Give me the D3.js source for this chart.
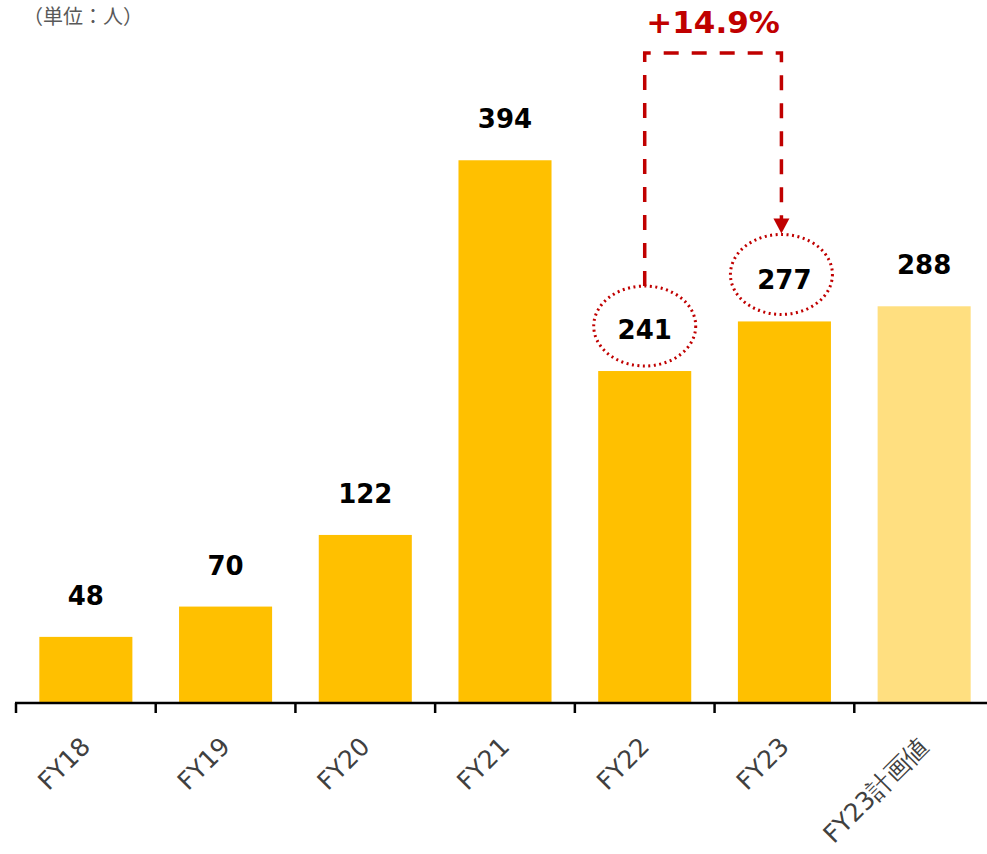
<!DOCTYPE html>
<html>
<head>
<meta charset="utf-8">
<script src="https://cdn.jsdelivr.net/npm/d3@7"></script>
<style>
  body { margin: 0; background: #fff; }
  text { font-family: "DejaVu Sans", Verdana, sans-serif; }
</style>
</head>
<body>
<div id="chart"></div>
<script>
var categories = ["FY18", "FY19", "FY20", "FY21", "FY22", "FY23", "FY23計画値"];
var values = [48, 70, 122, 394, 241, 277, 288];
var planFlags = [false, false, false, false, false, false, true];
var growthLabel = "+14.9%";
var unitLabel = "（単位：人）";

var svgWidth = 987;
var svgHeight = 854;
var baseY = 703;

var svg = d3.select("#chart")
    .append("svg")
    .attr("width", svgWidth)
    .attr("height", svgHeight);

var xScale = d3.scaleBand()
    .domain(categories)
    .range([16, 994])
    .paddingInner(0.334)
    .paddingOuter(0.167);

var yScale = d3.scaleLinear()
    .domain([0, 400])
    .range([baseY, baseY - 551]);

var red = "#c00000";

// unit label
svg.append("text")
    .attr("x", 23)
    .attr("y", 24)
    .attr("font-size", 20)
    .attr("fill", "#595959")
    .style("font-family", "'Noto Sans CJK JP', sans-serif")
    .text(unitLabel);

// bars
svg.selectAll("rect.bar")
    .data(values)
    .enter()
    .append("rect")
    .attr("class", "bar")
    .attr("x", (d, i) => xScale(categories[i]))
    .attr("y", d => yScale(d))
    .attr("width", xScale.bandwidth())
    .attr("height", d => baseY - yScale(d))
    .attr("fill", (d, i) => planFlags[i] ? "#ffdf80" : "#ffc000");

// value labels
svg.selectAll("text.val")
    .data(values)
    .enter()
    .append("text")
    .attr("class", "val")
    .attr("x", (d, i) => xScale(categories[i]) + xScale.bandwidth() / 2)
    .attr("y", d => yScale(d) - 32)
    .attr("text-anchor", "middle")
    .attr("font-size", 26)
    .attr("font-weight", "bold")
    .attr("fill", "#000")
    .text(d => d);

// axis
var step = xScale.step();
var x0 = xScale.range()[0];
svg.append("line")
    .attr("x1", x0 - 1)
    .attr("x2", svgWidth)
    .attr("y1", baseY)
    .attr("y2", baseY)
    .attr("stroke", "#000")
    .attr("stroke-width", 2.5);

svg.selectAll("line.tick")
    .data(d3.range(categories.length + 1))
    .enter()
    .append("line")
    .attr("class", "tick")
    .attr("x1", i => x0 + i * step)
    .attr("x2", i => x0 + i * step)
    .attr("y1", baseY)
    .attr("y2", baseY + 10)
    .attr("stroke", "#000")
    .attr("stroke-width", 2.5);

// category labels
svg.selectAll("text.cat")
    .data(categories)
    .enter()
    .append("text")
    .attr("class", "cat")
    .attr("text-anchor", "end")
    .attr("font-size", 25)
    .attr("fill", "#404040")
    .attr("transform", d => `translate(${xScale(d) + xScale.bandwidth() / 2 + 6}, ${baseY + 45}) rotate(-45)`)
    .text(d => d);

// growth annotation
var cx22 = xScale("FY22") + xScale.bandwidth() / 2;
var cx23 = xScale("FY23") + xScale.bandwidth() / 2 - 3;
var cy22 = yScale(values[4]) - 45;
var cy23 = yScale(values[5]) - 47;
var topY = 53;

svg.append("ellipse")
    .attr("cx", cx22).attr("cy", cy22)
    .attr("rx", 51).attr("ry", 40)
    .attr("fill", "none")
    .attr("stroke", red)
    .attr("stroke-width", 3)
    .attr("stroke-dasharray", "2 3.5");

svg.append("ellipse")
    .attr("cx", cx23).attr("cy", cy23)
    .attr("rx", 51).attr("ry", 40)
    .attr("fill", "none")
    .attr("stroke", red)
    .attr("stroke-width", 3)
    .attr("stroke-dasharray", "2 3.5");

svg.append("path")
    .attr("d", `M${cx22},${cy22 - 40} L${cx22},${topY} L${cx23},${topY} L${cx23},${cy23 - 55}`)
    .attr("fill", "none")
    .attr("stroke", red)
    .attr("stroke-width", 3.5)
    .attr("stroke-dasharray", "15 13");

svg.append("path")
    .attr("d", `M${cx23 - 8},${cy23 - 56} L${cx23 + 8},${cy23 - 56} L${cx23},${cy23 - 41} Z`)
    .attr("fill", red);

svg.append("text")
    .attr("x", (cx22 + cx23) / 2)
    .attr("y", 33)
    .attr("text-anchor", "middle")
    .attr("font-size", 31)
    .attr("font-weight", "bold")
    .attr("fill", red)
    .text(growthLabel);
</script>
</body>
</html>
